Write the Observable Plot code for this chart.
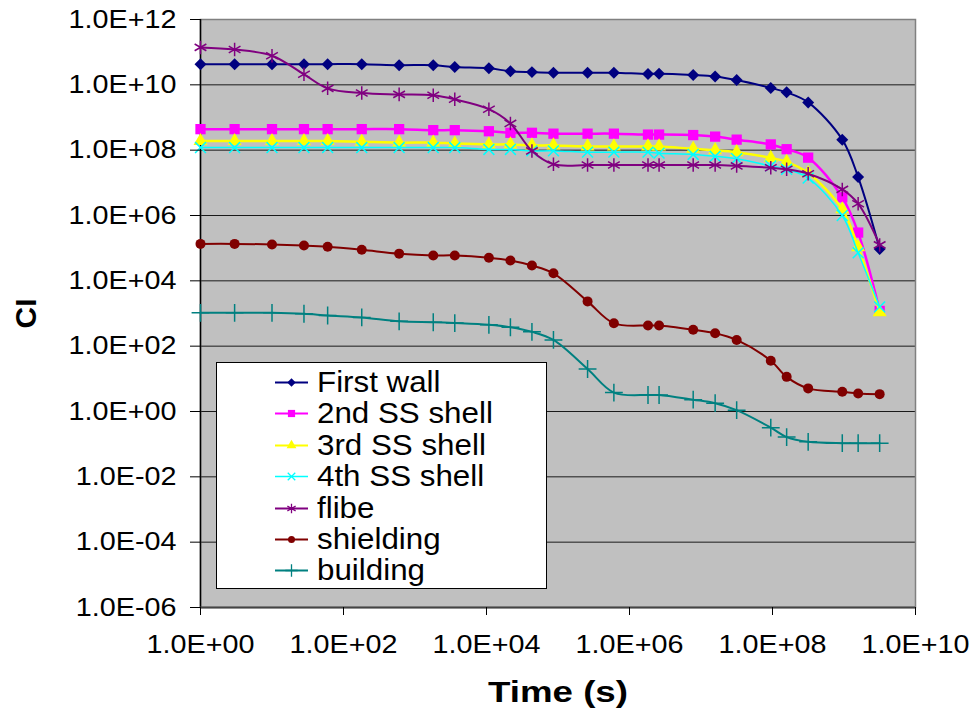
<!DOCTYPE html>
<html><head><meta charset="utf-8">
<script src="https://cdn.jsdelivr.net/npm/d3@7"></script>
<script src="https://cdn.jsdelivr.net/npm/@observablehq/plot@0.6"></script>
<style>
body{margin:0;background:#fff;}
#wrap{position:relative;width:970px;height:719px;font-family:"Liberation Sans",Arial,sans-serif;}
#legend{position:absolute;left:216px;top:362px;width:329px;height:225px;background:#fff;border:1px solid #000;}
.item{position:absolute;left:0;height:31px;width:329px;}
.item svg{position:absolute;left:57px;top:0;}
.item span{position:absolute;left:100px;top:0;line-height:31px;font-size:29px;color:#000;white-space:nowrap;transform:scaleX(1.08);transform-origin:0 50%;}
</style></head><body><div id="wrap"></div>
<script>
// Time points (s)
const times = [1, 3, 10, 28, 60, 180, 600, 1800, 3600, 10800, 21600, 43200, 86400,
  259200, 604800, 1814400, 2592000, 7776000, 15768000, 31536000, 94608000,
  157680000, 315360000, 946080000, 1576800000, 3153600000];

const seriesNames = ["First wall", "2nd SS shell", "3rd SS shell", "4th SS shell", "flibe", "shielding", "building"];

const firstWall = [4.3e10, 4.3e10, 4.3e10, 4.3e10, 4.3e10, 4.3e10, 4.0e10, 4.0e10, 3.5e10, 3.2e10, 2.6e10, 2.45e10, 2.35e10,
  2.35e10, 2.35e10, 2.15e10, 2.2e10, 2.0e10, 1.8e10, 1.4e10, 8e9, 5.9e9, 2.9e9, 2.1e8, 1.5e7, 9.5e4];
const ss2 = [4.4e8, 4.4e8, 4.4e8, 4.4e8, 4.4e8, 4.4e8, 4.4e8, 4.1e8, 4.1e8, 3.8e8, 3.4e8, 3.4e8, 3.2e8,
  3.2e8, 3.2e8, 3.0e8, 3.0e8, 2.9e8, 2.6e8, 2.1e8, 1.5e8, 1.07e8, 5.9e7, 3.6e6, 3.0e5, 1.2e3];
const ss3 = [1.9e8, 1.9e8, 1.9e8, 1.9e8, 1.9e8, 1.8e8, 1.7e8, 1.7e8, 1.6e8, 1.5e8, 1.5e8, 1.4e8, 1.4e8,
  1.3e8, 1.3e8, 1.3e8, 1.3e8, 1.1e8, 1.0e8, 8.7e7, 5.8e7, 4.4e7, 2.0e7, 1.55e6, 1.07e5, 1.1e3];
const ss4 = [1.2e8, 1.2e8, 1.2e8, 1.2e8, 1.2e8, 1.2e8, 1.2e8, 1.2e8, 1.2e8, 1.05e8, 1.05e8, 9.5e7, 9.5e7,
  8.7e7, 8.7e7, 8.7e7, 8.1e7, 7.4e7, 6.5e7, 5.5e7, 3.3e7, 2.6e7, 1.4e7, 1.0e6, 7.2e4, 1.6e3];
const flibe = [1.4e11, 1.2e11, 7.8e10, 2.1e10, 7.8e9, 5.6e9, 5.1e9, 4.8e9, 3.6e9, 1.8e9, 6.6e8, 9.5e7, 3.7e7,
  3.5e7, 3.5e7, 3.5e7, 3.5e7, 3.5e7, 3.5e7, 3.3e7, 2.9e7, 2.6e7, 1.9e7, 6.3e6, 2.3e6, 1.26e5];
const shielding = [1.35e5, 1.35e5, 1.3e5, 1.2e5, 1.1e5, 8.9e4, 6.8e4, 6.0e4, 6.0e4, 5.1e4, 4.2e4, 2.95e4, 1.7e4,
  2.35e3, 500, 430, 430, 320, 250, 155, 36, 11.5, 5.1, 4.0, 3.55, 3.4];
const building = [1050, 1050, 1050, 980, 870, 760, 575, 540, 510, 450, 380, 275, 155,
  20, 3.8, 3.2, 3.2, 2.3, 1.8, 1.1, 0.32, 0.165, 0.118, 0.107, 0.107, 0.107];

const xTicks = [1, 1e2, 1e4, 1e6, 1e8, 1e10];
const yTicks = [1e-6, 1e-4, 1e-2, 1, 1e2, 1e4, 1e6, 1e8, 1e10, 1e12];

const seriesValues = [firstWall, ss2, ss3, ss4, flibe, shielding, building];
const styles = [
  {color: "#000080", symbol: "diamond2", filled: true, r: 5.4, sw: 2},
  {color: "#FF00FF", symbol: "square", filled: true, r: 5.8, sw: 2.5},
  {color: "#FFFF00", symbol: "triangle", filled: true, r: 5.2, sw: 2.5},
  {color: "#00FFFF", symbol: "times", filled: false, r: 5, sw: 1.5},
  {color: "#800080", symbol: "asterisk", filled: false, r: 6.4, sw: 2},
  {color: "#800000", symbol: "circle", filled: true, r: 5, sw: 2},
  {color: "#008080", symbol: "plus", filled: false, r: 5.8, sw: 2}
];

const fmt = d => {
  const e = Math.round(Math.log10(d));
  return "1.0E" + (e >= 0 ? "+" : "-") + String(Math.abs(e)).padStart(2, "0");
};

const marks = [
  Plot.frame({fill: "#c0c0c0", stroke: null}),
  Plot.ruleY(yTicks.filter(d => d > 1e-6), {stroke: "#1a1a1a", strokeWidth: 1}),
  Plot.frame({stroke: "#808080", strokeWidth: 1.5}),
  Plot.ruleX([1], {stroke: "#000", strokeWidth: 1.5}),
  Plot.ruleY([1e-6], {stroke: "#444", strokeWidth: 2})
];

seriesValues.forEach((vals, i) => {
  const st = styles[i];
  const rows = times.map((t, j) => ({t, v: vals[j]}));
  marks.push(Plot.line(rows, {x: "t", y: "v", stroke: st.color, strokeWidth: st.sw, curve: "catmull-rom"}));
  marks.push(Plot.dot(rows, st.filled
    ? {x: "t", y: "v", symbol: () => st.symbol, fill: st.color, stroke: "none", r: st.r}
    : {x: "t", y: "v", symbol: () => st.symbol, stroke: st.color, fill: "none", strokeWidth: 1.5, r: st.r}));
});

marks.push(
  Plot.axisY({ticks: yTicks, tickFormat: fmt, tickSize: 10, tickPadding: 14, fontSize: 25, label: null, stroke: "#000"}),
  Plot.axisX({ticks: xTicks, tickFormat: fmt, tickSize: 8, tickPadding: 20, fontSize: 25, label: null}),
  Plot.text(["Time (s)"], {frameAnchor: "bottom", dy: 94, fontSize: 30, fontWeight: "bold", fill: "#000"}),
  Plot.text(["CI"], {frameAnchor: "left", dx: -174, rotate: -90, textAnchor: "middle", lineAnchor: "middle", fontSize: 30, fontWeight: "bold", fill: "#000"})
);

const chart = Plot.plot({
  width: 970,
  height: 719,
  marginLeft: 200,
  marginRight: 55,
  marginTop: 19,
  marginBottom: 112,
  style: {fontFamily: "'Liberation Sans', Arial, sans-serif", color: "#000", background: "#fff", overflow: "visible"},
  x: {type: "log", domain: [1, 1e10]},
  y: {type: "log", domain: [1e-6, 1e12]},
  marks
});

const wrap = document.getElementById("wrap");
wrap.appendChild(chart);

// The reference's text is horizontally stretched; mimic it with textLength
d3.select(chart).selectAll("text").each(function() {
  if (/^1\.0E[+-]\d\d$/.test(this.textContent)) {
    this.style.fill = "#000";
    const w = this.getComputedTextLength();
    this.setAttribute("textLength", (w * 1.15).toFixed(1));
    this.setAttribute("lengthAdjust", "spacingAndGlyphs");
  }
  if (this.textContent === "Time (s)") {
    this.setAttribute("textLength", 140);
    this.setAttribute("lengthAdjust", "spacingAndGlyphs");
  }
});

// Legend overlay (HTML)
const legend = document.createElement("div");
legend.id = "legend";
seriesNames.forEach((name, i) => {
  const st = styles[i];
  const item = document.createElement("div");
  item.className = "item";
  item.style.top = (4 + i * 31.4) + "px";
  const size = Math.PI * (st.r * 0.7) ** 2;
  const sym = {
    diamond2: d3.symbolDiamond2, square: d3.symbolSquare, triangle: d3.symbolTriangle,
    times: d3.symbolTimes, asterisk: d3.symbolAsterisk, circle: d3.symbolCircle, plus: d3.symbolPlus
  }[st.symbol];
  const path = d3.symbol(sym, size)();
  item.innerHTML = `<svg width="36" height="31">
    <line x1="1" x2="34" y1="15.5" y2="15.5" stroke="${st.color}" stroke-width="${Math.min(st.sw, 2)}"/>
    <path transform="translate(17.5,15.5)" d="${path}" ${st.filled ? `fill="${st.color}"` : `fill="none" stroke="${st.color}" stroke-width="1.3"`}/>
  </svg><span>${name}</span>`;
  legend.appendChild(item);
});
wrap.appendChild(legend);
</script>
</body></html>
